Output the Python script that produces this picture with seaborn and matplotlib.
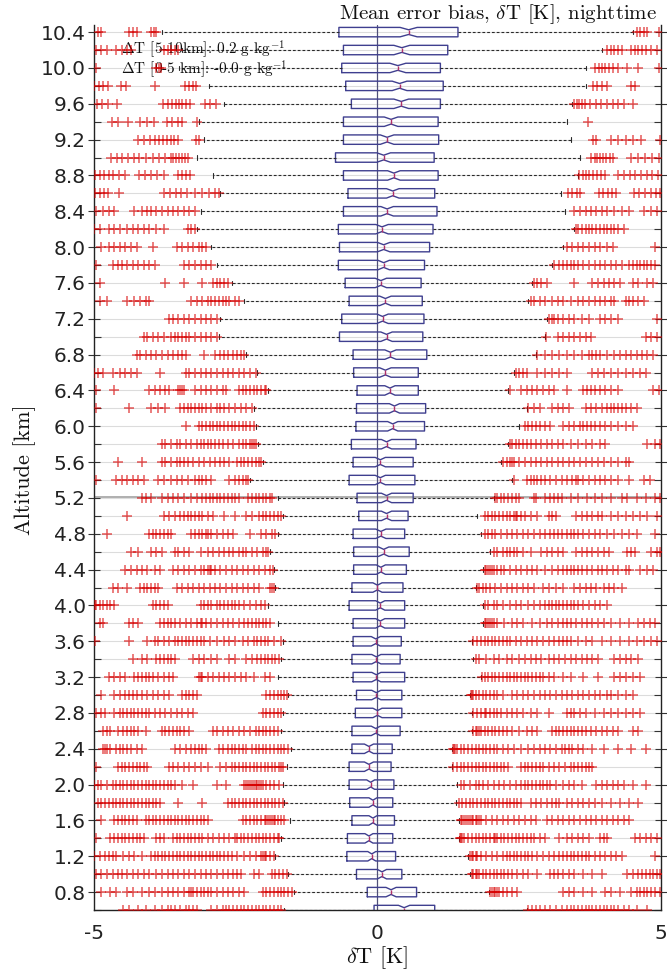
import numpy as np
import pandas as pd
import matplotlib
matplotlib.use("Agg")
import matplotlib.pyplot as plt
import seaborn as sns

# ---------------- data ----------------
altitudes = [10.4, 10.2, 10.0, 9.8, 9.6, 9.4, 9.2, 9.0, 8.8, 8.6, 8.4, 8.2, 8.0,
             7.8, 7.6, 7.4, 7.2, 7.0, 6.8, 6.6, 6.4, 6.2, 6.0, 5.8, 5.6, 5.4,
             5.2, 5.0, 4.8, 4.6, 4.4, 4.2, 4.0, 3.8, 3.6, 3.4, 3.2, 3.0,
             2.8, 2.6, 2.4, 2.2, 2.0, 1.8, 1.6, 1.4, 1.2, 1.0, 0.8, 0.6]

q1 = [-0.68, -0.60, -0.63, -0.56, -0.46, -0.60, -0.60, -0.74, -0.60, -0.52, -0.60, -0.69, -0.67,
      -0.69, -0.57, -0.50, -0.63, -0.67, -0.43, -0.42, -0.36, -0.37, -0.38, -0.46, -0.43, -0.50,
      -0.36, -0.33, -0.43, -0.42, -0.42, -0.45, -0.50, -0.43, -0.43, -0.45, -0.43, -0.37,
      -0.39, -0.45, -0.45, -0.50, -0.50, -0.49, -0.45, -0.53, -0.54, -0.37, -0.18, -0.06]
median = [0.55, 0.43, 0.36, 0.39, 0.42, 0.24, 0.17, 0.11, 0.29, 0.27, 0.17, 0.08, 0.11,
          0.11, 0.06, 0.14, 0.09, 0.16, 0.23, 0.14, 0.22, 0.30, 0.27, 0.16, 0.05, 0.05,
          0.16, 0.16, 0.06, 0.11, 0.06, 0.00, 0.05, 0.05, -0.03, -0.02, -0.02, -0.02,
          0.00, -0.03, -0.15, -0.15, -0.12, -0.08, -0.08, -0.15, -0.10, 0.08, 0.24, 0.47]
q3 = [1.42, 1.24, 1.11, 1.16, 1.11, 1.07, 1.08, 1.00, 1.07, 1.01, 1.05, 0.98, 0.92,
      0.83, 0.77, 0.79, 0.82, 0.80, 0.87, 0.72, 0.72, 0.85, 0.83, 0.68, 0.63, 0.66,
      0.63, 0.54, 0.48, 0.56, 0.51, 0.45, 0.48, 0.48, 0.42, 0.40, 0.48, 0.43,
      0.43, 0.40, 0.26, 0.24, 0.29, 0.27, 0.30, 0.27, 0.32, 0.43, 0.69, 1.01]
whisker_lo = [-3.80, -3.45, -3.50, -2.98, -2.70, -3.15, -3.06, -3.19, -2.90, -2.77, -3.12, -3.19, -2.93,
              -2.83, -2.57, -2.35, -2.77, -2.80, -2.31, -2.12, -1.93, -2.18, -2.15, -2.10, -2.02, -2.25,
              -1.76, -1.67, -1.76, -1.89, -1.83, -1.80, -1.93, -1.76, -1.67, -1.70, -1.75, -1.57,
              -1.67, -1.71, -1.52, -1.60, -1.67, -1.65, -1.54, -1.70, -1.80, -1.58, -1.47, -1.64]
whisker_hi = [4.50, 3.96, 3.67, 3.67, 3.44, 3.34, 3.41, 3.57, 3.54, 3.24, 3.31, 3.47, 3.28,
              3.08, 2.73, 2.66, 2.99, 2.95, 2.79, 2.40, 2.31, 2.63, 2.50, 2.31, 2.18, 2.37,
              2.05, 1.76, 1.82, 1.98, 1.86, 1.73, 1.86, 1.86, 1.66, 1.69, 1.82, 1.63,
              1.66, 1.66, 1.31, 1.31, 1.40, 1.39, 1.44, 1.44, 1.60, 1.63, 1.97, 2.63]
notch_hw = [0.15, 0.14, 0.14, 0.13, 0.13, 0.12, 0.12, 0.12, 0.11, 0.11, 0.11, 0.11, 0.11,
            0.10, 0.10, 0.10, 0.10, 0.10, 0.10, 0.10, 0.09, 0.09, 0.09, 0.09, 0.09, 0.09,
            0.09, 0.09, 0.09, 0.09, 0.08, 0.08, 0.08, 0.08, 0.08, 0.08, 0.08, 0.08,
            0.08, 0.08, 0.08, 0.08, 0.07, 0.07, 0.07, 0.07, 0.07, 0.08, 0.09, 0.10]

# outliers (red +) per altitude level
out_10_4 = [-4.93, -4.87, -4.38, -4.32, -4.25, -3.99, -3.95, -3.90, 4.57, 4.63, 4.70, 4.76, 4.96]
out_10_2 = [-4.96, -4.87, -4.77, -4.61, -4.51, -4.42, -4.35, -3.77, -3.70, -3.64, -3.57, -3.51,
            4.05, 4.12, 4.18, 4.25, 4.31, 4.47, 4.54, 4.60, 4.67, 4.73, 4.83, 4.93]
out_10_0 = [-4.97, -3.90, -3.86, -3.82, 3.83, 3.90, 3.96, 4.02, 4.08, 4.15, 4.25, 4.40, 4.60, 4.96]
out_9_8 = [-5.00, -4.92, -4.84, -4.76, -4.52, -4.44, -3.92, -3.40, -3.33, -3.26, -3.20,
           3.80, 3.88, 3.96, 4.05, 4.47, 4.55]
out_9_6 = [-4.95, -4.85, -4.75, -4.60, -3.78, -3.70, -3.62, -3.55, -3.50, -3.45, -3.38, -3.30, -3.05, -2.95, -2.85,
           3.47, 3.52, 3.56, 3.60, 3.66, 3.75, 3.85, 3.95, 4.05, 4.15, 4.25, 4.35, 4.50]
out_9_4 = [-4.68, -4.58, -4.40, -4.18, -4.06, -3.95, -3.72, -3.62, -3.52, -3.45, -3.18, 3.71]
out_9_2 = [-4.22, -4.12, -4.02, -3.92, -3.85, -3.78, -3.72, -3.65, -3.58, -3.52, -3.20, -3.14,
           3.80, 3.86, 4.12, 4.25, 4.38, 4.50, 4.64, 4.98]
out_9_0 = [-4.70, -4.60, -4.50, -4.40, -4.30, -4.20, -4.08, -3.96, -3.85, -3.75, -3.65, -3.60, -3.55, -3.50,
           -3.45, -3.40, -3.35, 3.77, 3.83, 3.88, 3.93, 3.98, 4.03, 4.10, 4.16, 4.48, 4.60, 4.72, 4.84, 4.96]
out_8_8 = [-4.98, -4.90, -4.82, -4.74, -4.66, -4.55, -4.46, -4.20, -4.10, -4.00, -3.89, -3.77, -3.52, -3.44,
           -3.37, -3.30, 3.56, 3.62, 3.68, 3.74, 3.80, 3.87, 3.94, 4.02, 4.25, 4.35, 4.45, 4.55, 4.65, 4.75,
           4.85, 4.95]
out_8_6 = [-4.98, -4.90, -4.82, -4.75, -4.56, -3.76, -3.66, -3.56, -3.46, -3.36, -3.22, -3.10, -2.98, -2.86,
           -2.79, 3.36, 3.44, 3.52, 3.58, 3.90, 3.98, 4.06, 4.14, 4.20, 4.52, 4.62, 4.72, 4.82, 4.92, 4.99]
out_8_4 = [-4.96, -4.84, -4.74, -4.64, -4.29, -4.16, -4.06, -3.99, -3.90, -3.80, -3.70, -3.61, -3.51, -3.41,
           -3.32, -3.22, 3.47, 3.57, 3.67, 3.76, 3.86, 3.96, 4.05, 4.18, 4.31, 4.44, 4.70, 4.83, 4.93]
out_8_2 = [-5.00, -4.90, -4.74, -4.64, -4.54, -4.42, -4.32, -4.22, -4.12, -4.03, -3.90, -3.77, -3.35, -3.28,
           -3.22, 3.50, 3.54, 3.60, 3.67, 3.73, 3.79, 3.86, 3.92, 3.99, 4.05, 4.12, 4.18, 4.25, 4.34]
out_8_0 = [-4.87, -4.74, -4.64, -4.54, -4.45, -4.35, -4.25, -3.96, -3.54, -3.45, -3.35, -3.25, -3.15, -3.09,
           -3.03, 3.34, 3.44, 3.54, 3.63, 3.73, 3.83, 3.92, 4.05, 4.15, 4.89]
out_7_8 = [-4.96, -4.67, -4.58, -4.51, -4.42, -4.32, -4.22, -4.12, -4.03, -3.93, -3.41, -3.32, -3.22, -3.12,
           -3.03, -2.93, 3.12, 3.21, 3.28, 3.34, 3.41, 3.47, 3.54, 3.63, 3.73, 3.83, 3.92, 4.02, 4.12, 4.21,
           4.31, 4.44, 4.51, 4.57, 4.63, 4.70, 4.76, 4.83, 4.89]
out_7_6 = [-4.90, -3.74, -3.41, -3.09, -2.90, -2.83, -2.77, -2.70, -2.64,
           2.76, 2.82, 2.89, 2.99, 3.47, 3.79, 3.89, 3.99, 4.09, 4.18, 4.28, 4.51, 4.60, 4.76, 4.86]
out_7_4 = [-4.90, -4.77, -4.42, -4.29, -4.19, -4.09, -4.03, -3.28, -3.19, -3.09, -2.99, -2.93, -2.86, -2.80,
           -2.73, -2.67, -2.61, -2.51, -2.44, 2.70, 2.76, 2.86, 2.95, 3.08, 3.18, 3.28, 3.41, 3.54, 3.63,
           3.73, 3.83, 3.92, 4.02, 4.12, 4.18, 4.38, 4.44, 4.51, 4.60, 4.70]
out_7_2 = [-3.67, -3.61, -3.51, -3.41, -3.32, -3.22, -3.12, -3.03, -2.93, -2.83,
           3.02, 3.07, 3.12, 3.18, 3.28, 3.37, 3.47, 3.60, 3.73, 3.92, 4.02, 4.12, 4.25, 4.93]
out_7_0 = [-4.12, -4.06, -3.96, -3.87, -3.77, -3.64, -3.57, -3.51, -3.45, -3.38, -3.32, -3.22, -3.12, -3.03,
           -2.93, -2.83, 2.98, 3.18, 3.28, 3.37, 3.47, 3.57, 3.67, 3.76, 4.73, 4.83, 4.93]
out_6_8 = [-4.25, -4.19, -4.09, -3.99, -3.90, -3.80, -3.70, -3.61, -3.51, -3.45, -3.38, -3.06, -2.86, -2.77,
           -2.70, -2.64, -2.54, -2.48, -2.41, -2.35, 2.82, 2.95, 3.08, 3.21, 3.34, 3.47, 3.60, 3.73, 3.79,
           3.86, 3.92, 4.05, 4.18, 4.28, 4.38, 4.47, 4.57, 4.67, 4.76, 4.86]
out_6_6 = [-5.00, -4.93, -4.84, -4.67, -4.54, -4.45, -4.35, -4.25, -3.83, -3.38, -3.32, -3.22, -3.12, -3.03,
           -2.93, -2.83, -2.73, -2.64, -2.54, -2.44, -2.35, -2.25, -2.15, 2.44, 2.50, 2.57, 2.63, 2.82, 2.95,
           3.08, 3.21, 3.34, 3.79, 3.89, 3.99, 4.12, 4.25, 4.38, 4.51, 4.63, 4.73]
out_6_4 = [-4.96, -4.64, -4.03, -3.93, -3.83, -3.74, -3.67, -3.51, -3.48, -3.45, -3.41, -3.22, -3.12, -3.03,
           -2.93, -2.83, -2.73, -2.67, -2.44, -2.38, -2.31, -2.25, -2.18, -2.12, -2.06, -1.99, -1.96,
           2.33, 2.53, 2.63, 2.73, 2.82, 2.92, 3.02, 3.12, 3.34, 3.63, 3.70, 3.76, 3.83, 3.92, 4.02, 4.12,
           4.25, 4.86, 4.96]
out_6_2 = [-4.96, -4.38, -3.99, -3.87, -3.74, -3.48, -3.41, -3.35, -3.28, -3.22, -3.15, -3.09, -3.03, -2.93,
           -2.83, -2.77, -2.70, -2.61, -2.51, -2.41, -2.31, -2.22, 2.66, 2.76, 2.86, 3.08, 3.18, 3.28, 3.37,
           3.67, 3.76, 3.86, 3.96, 4.05, 4.12, 4.18, 4.25, 4.31, 4.38, 4.47, 4.57]
out_6_0 = [-3.38, -3.15, -3.09, -3.03, -2.96, -2.90, -2.83, -2.77, -2.70, -2.64, -2.57, -2.51, -2.44, -2.38,
           -2.31, -2.25, -2.18, 2.60, 2.66, 2.73, 2.79, 2.86, 2.95, 3.05, 3.28, 3.37, 3.47, 3.57, 3.63, 3.70,
           3.76, 3.83, 3.92, 4.02, 4.12, 4.25, 4.38, 4.51]
out_5_8 = [-3.80, -3.74, -3.64, -3.54, -3.48, -3.38, -3.28, -3.19, -3.12, -3.06, -2.99, -2.93, -2.86, -2.80,
           -2.73, -2.64, -2.54, -2.44, -2.38, -2.31, -2.25, -2.22, -2.18, -2.15, 2.34, 2.37, 2.44, 2.50,
           2.57, 2.63, 2.70, 2.79, 2.89, 2.99, 3.08, 3.18, 3.28, 3.41, 3.54, 3.67, 3.79, 3.92, 4.02, 4.76,
           4.89, 4.99]
out_5_6 = [-4.58, -4.16, -3.80, -3.74, -3.64, -3.54, -3.48, -3.41, -3.35, -3.25, -3.15, -3.06, -2.96, -2.86,
           -2.77, -2.70, -2.61, -2.48, -2.41, -2.35, -2.28, -2.22, -2.15, -2.09, -2.06, 2.21, 2.28, 2.34,
           2.37, 2.40, 2.50, 2.60, 2.70, 2.79, 2.89, 2.99, 3.08, 3.18, 3.28, 3.37, 3.47, 3.57, 3.67, 3.79,
           3.89, 3.99, 4.12, 4.25, 4.38, 4.44]
out_5_4 = [-4.96, -4.61, -4.51, -4.42, -4.32, -4.22, -4.12, -3.87, -3.77, -3.64, -3.54, -3.45, -3.35, -3.22,
           -3.15, -3.09, -3.03, -2.93, -2.61, -2.51, -2.44, -2.38, -2.31, -2.28, 2.40, 2.63, 2.70, 2.76,
           2.82, 2.89, 2.95, 3.05, 3.15, 3.25, 3.34, 3.44, 3.50, 3.54, 3.63, 3.73, 3.83, 3.92, 4.02, 4.12,
           4.25, 4.44, 4.70, 4.80]
out_5_2 = [-4.16, -4.09, -3.99, -3.80, -3.70, -3.61, -3.51, -3.41, -3.28, -3.19, -3.09, -3.03, -2.96, -2.90,
           -2.83, -2.77, -2.70, -2.64, -2.57, -2.51, -2.44, -2.28, -2.22, -2.15, -2.09, -2.02, -1.96, -1.89,
           -1.86, 2.08, 2.11, 2.18, 2.24, 2.31, 2.37, 2.44, 2.50, 2.76, 2.79, 2.95, 3.05, 3.12, 3.18, 3.25,
           3.41, 3.54, 3.70, 3.83, 3.96, 4.12, 4.31, 4.41, 4.57, 4.73, 4.89, 4.99]
out_5_0 = [-4.42, -3.77, -3.67, -3.57, -3.48, -3.41, -3.35, -3.28, -3.22, -3.15, -3.09, -2.99, -2.90, -2.70,
           -2.51, -2.31, -2.22, -2.09, -2.02, -1.96, -1.89, -1.83, -1.76, -1.70, 1.89, 1.95, 2.02, 2.08,
           2.15, 2.21, 2.28, 2.34, 2.40, 2.44, 2.47, 2.53, 2.60, 2.70, 2.82, 3.02, 3.08, 3.15, 3.50, 3.60,
           3.70, 3.79, 3.89, 3.96, 4.12, 4.25, 4.38, 4.51, 4.63, 4.76, 4.93]
out_4_8 = [-4.77, -4.03, -3.96, -3.90, -3.83, -3.77, -3.70, -3.64, -3.28, -3.22, -3.15, -3.09, -3.03, -2.99,
           -2.93, -2.83, -2.73, -2.64, -2.54, -2.25, -2.06, -1.96, -1.86, -1.80, 1.89, 1.95, 2.02, 2.08,
           2.18, 2.28, 2.37, 2.47, 2.57, 2.66, 2.76, 2.86, 2.95, 3.05, 3.12, 3.18, 3.25, 3.34, 3.41, 3.47,
           3.54, 3.63, 3.73, 3.83, 3.92, 4.05, 4.18, 4.31, 4.44, 4.57, 4.89]
out_4_6 = [-4.35, -4.22, -3.99, -3.90, -3.80, -3.57, -3.51, -3.41, -3.32, -3.12, -2.99, -2.90, -2.80, -2.70,
           -2.61, -2.54, -2.44, -2.38, -2.31, -2.22, -2.12, -2.02, -1.96, -1.93, 2.05, 2.11, 2.21, 2.28,
           2.34, 2.40, 2.47, 2.57, 2.70, 2.89, 2.99, 3.08, 3.18, 3.28, 3.50, 3.60, 3.70, 3.79, 3.89, 3.99,
           4.09, 4.41, 4.47, 4.54, 4.83, 4.93, 4.99]
out_4_4 = [-4.45, -4.35, -4.25, -4.16, -4.06, -3.93, -3.83, -3.61, -3.51, -3.41, -3.32, -3.22, -3.12, -3.06,
           -2.99, -2.96, -2.93, -2.86, -2.77, -2.67, -2.57, -2.48, -2.38, -2.28, -2.18, -2.09, -1.99, -1.89,
           -1.85, 1.89, 1.92, 1.95, 1.98, 2.02, 2.05, 2.11, 2.18, 2.24, 2.34, 2.44, 2.53, 2.63, 2.73, 2.82,
           2.95, 3.08, 3.18, 3.28, 3.34, 3.41, 3.47, 3.54, 3.60, 3.70, 3.79, 3.89, 3.96, 4.05, 4.15, 4.25,
           4.38, 4.44, 4.63, 4.76, 4.86]
out_4_2 = [-4.67, -4.58, -4.42, -4.19, -4.12, -4.06, -3.99, -3.93, -3.87, -3.54, -3.45, -3.35, -3.25, -3.15,
           -3.06, -2.96, -2.86, -2.77, -2.67, -2.57, -2.48, -2.38, -2.28, -2.18, -2.09, -1.89, -1.86, -1.82,
           1.76, 1.79, 1.86, 1.92, 1.98, 2.08, 2.18, 2.28, 2.37, 2.47, 2.57, 2.66, 2.76, 2.92, 3.02, 3.15,
           3.28, 3.47, 3.57, 3.67, 3.76, 3.86, 3.99, 4.09, 4.18, 4.31]
out_4_0 = [-4.99, -4.96, -4.90, -4.84, -4.77, -4.71, -4.64, -3.96, -3.90, -3.83, -3.77, -3.70, -3.12, -3.06,
           -2.99, -2.93, -2.83, -2.77, -2.70, -2.64, -2.57, -2.51, -2.44, -2.35, -2.25, -2.15, -2.06, -1.99,
           1.89, 1.95, 2.05, 2.11, 2.21, 2.34, 2.44, 2.53, 2.66, 2.76, 2.86, 2.95, 3.02, 3.08, 3.15, 3.21,
           3.28, 3.34, 3.41, 3.47, 3.54, 3.63, 3.73, 3.83, 3.92, 4.05]
out_3_8 = [-4.90, -4.84, -4.38, -4.32, -4.22, -3.83, -3.77, -3.70, -3.64, -3.57, -3.48, -3.38, -3.28, -3.19,
           -3.12, -3.09, -3.03, -2.93, -2.83, -2.73, -2.64, -2.54, -2.44, -2.35, -2.28, -2.22, -2.15, -2.09,
           -2.02, -1.96, -1.89, 1.89, 1.92, 1.95, 1.98, 2.02, 2.05, 2.11, 2.24, 2.37, 2.47, 2.57, 2.73, 2.86,
           2.99, 3.08, 3.18, 3.28, 3.34, 3.41, 3.50, 3.60, 3.70, 3.79, 3.89, 3.99, 4.12, 4.28, 4.44, 4.60,
           4.70, 4.80, 4.89]
out_3_6 = [-4.99, -4.38, -4.06, -3.93, -3.87, -3.77, -3.67, -3.57, -3.51, -3.45, -3.38, -3.32, -3.25, -3.19,
           -3.12, -3.06, -2.96, -2.83, -2.70, -2.61, -2.51, -2.38, -2.28, -2.18, -2.12, -2.06, -1.99, -1.93,
           -1.83, -1.70, 1.69, 1.76, 1.82, 1.89, 1.95, 2.02, 2.08, 2.15, 2.21, 2.28, 2.34, 2.44, 2.53, 2.63,
           2.73, 2.82, 2.92, 3.02, 3.12, 3.21, 3.28, 3.34, 3.41, 3.54, 3.67, 3.79, 3.96, 4.12, 4.28, 4.44,
           4.57, 4.70, 4.83, 4.93]
out_3_4 = [-4.32, -4.16, -4.06, -3.90, -3.83, -3.77, -3.70, -3.64, -3.57, -3.25, -3.15, -3.06, -2.93, -2.83,
           -2.61, -2.51, -2.31, -2.22, -2.12, -2.06, -1.99, -1.93, -1.86, -1.80, -1.73, 1.73, 1.79, 1.92,
           2.05, 2.15, 2.28, 2.37, 2.50, 2.60, 2.70, 2.79, 2.89, 3.02, 3.12, 3.21, 3.31, 3.41, 3.50, 3.60,
           3.70, 3.79, 3.89, 4.18, 4.28, 4.38, 4.47, 4.60]
out_3_2 = [-4.74, -4.64, -4.54, -4.45, -4.29, -4.22, -4.16, -4.09, -4.03, -3.96, -3.87, -3.77, -3.67, -3.61,
           -3.15, -3.12, -3.09, -2.99, -2.90, -2.80, -2.70, -2.61, -2.51, -2.41, -2.31, -2.18, -1.99, -1.89,
           1.85, 1.89, 1.95, 2.02, 2.08, 2.15, 2.21, 2.28, 2.34, 2.40, 2.47, 2.53, 2.60, 2.66, 2.73, 2.79,
           2.86, 2.92, 3.02, 3.12, 3.28, 3.41, 3.63, 3.89, 4.18, 4.28, 4.38, 4.51, 4.63]
out_3_0 = [-4.87, -4.64, -4.54, -4.45, -4.38, -4.32, -4.25, -4.16, -4.06, -3.96, -3.87, -3.77, -3.67, -3.45,
           -3.38, -3.32, -3.25, -3.19, -1.96, -1.89, -1.83, -1.76, -1.70, -1.64, -1.60, 1.65, 1.67, 1.69,
           1.73, 1.79, 1.86, 1.92, 1.98, 2.05, 2.11, 2.21, 2.37, 2.47, 2.57, 2.66, 2.76, 2.86, 2.95, 3.05,
           3.15, 3.25, 3.34, 3.44, 3.54, 3.63, 3.73, 3.83, 3.92, 4.05, 4.12, 4.25, 4.38, 4.51]
out_2_8 = [-4.96, -4.87, -4.80, -4.64, -4.54, -4.48, -4.42, -4.35, -4.29, -4.22, -4.16, -4.09, -4.03, -3.93,
           -3.83, -3.74, -3.64, -3.54, -3.45, -3.35, -3.25, -2.02, -1.96, -1.89, -1.83, -1.76, -1.70,
           1.69, 1.76, 1.82, 1.89, 1.92, 1.98, 2.05, 2.11, 2.18, 2.28, 2.37, 2.47, 2.57, 2.70, 2.82, 3.02,
           3.34, 3.41, 3.47, 3.57, 3.67, 3.83, 3.99, 4.12, 4.25, 4.38, 4.51, 4.63]
out_2_6 = [-4.84, -4.77, -4.71, -4.58, -4.48, -4.42, -4.35, -4.29, -4.22, -4.09, -3.80, -3.74, -3.67, -3.61,
           -3.54, -3.48, -3.41, -3.32, -2.90, -2.83, -2.73, -2.64, -2.54, -2.44, -2.35, -2.25, -2.15, -2.09,
           -2.02, -1.96, -1.89, -1.83, -1.76, 1.69, 1.73, 1.76, 1.79, 1.82, 1.89, 1.95, 2.02, 2.08, 2.15,
           2.21, 2.28, 2.37, 2.50, 2.63, 2.73, 2.82, 3.08, 3.15, 3.21, 3.28, 3.34, 3.41, 3.47, 3.54, 3.60,
           3.67, 3.76, 3.86, 3.96, 4.05, 4.15, 4.25, 4.51, 4.60]
out_2_4 = [-4.84, -4.80, -4.77, -4.71, -4.61, -4.54, -4.48, -4.42, -4.35, -4.25, -4.16, -3.57, -3.48, -3.38,
           -3.28, -3.22, -3.15, -3.09, -3.03, -2.80, -2.73, -2.64, -2.57, -2.51, -2.44, -2.38, -2.31, -2.22,
           -2.15, -2.09, -2.02, -1.96, -1.89, -1.83, -1.76, -1.70, -1.64, -1.57, 1.33, 1.35, 1.37, 1.40,
           1.47, 1.53, 1.60, 1.66, 1.73, 1.79, 1.86, 1.92, 1.98, 2.05, 2.11, 2.21, 2.31, 2.40, 2.53, 2.66,
           2.76, 2.86, 2.95, 3.05, 3.15, 3.25, 3.31, 3.37, 3.44, 3.54, 3.63, 3.79, 3.99, 4.25, 4.47, 4.73]
out_2_2 = [-4.96, -4.58, -4.51, -4.45, -4.38, -4.32, -4.25, -4.19, -4.12, -4.06, -3.67, -3.61, -3.51, -3.41,
           -3.32, -3.22, -3.12, -2.99, -2.77, -2.67, -2.57, -2.51, -2.44, -2.38, -2.31, -2.25, -2.18, -2.12,
           -2.06, -1.99, -1.93, -1.86, -1.80, -1.73, -1.70, -1.67, 1.34, 1.40, 1.47, 1.53, 1.60, 1.66, 1.73,
           1.79, 1.86, 1.92, 1.98, 2.05, 2.11, 2.18, 2.24, 2.31, 2.53, 2.60, 2.66, 2.73, 2.79, 2.86, 2.92,
           3.02, 3.12, 3.21, 3.31, 3.41, 3.47, 3.54, 3.60, 3.67, 3.73, 3.79]
out_2_0 = [-5.00, -4.93, -4.87, -4.77, -4.67, -4.61, -4.54, -4.48, -4.42, -4.35, -4.29, -4.22, -4.16, -4.09,
           -4.03, -3.96, -3.90, -3.83, -3.77, -3.70, -3.64, -3.57, -3.45, -3.25, -2.83, -2.67, -2.35, -2.31,
           -2.28, -2.25, -2.22, -2.18, -2.15, -2.12, -2.09, -2.06, -2.02, -1.96, -1.89, -1.83, -1.73,
           1.47, 1.53, 1.63, 1.73, 1.79, 1.86, 1.95, 2.05, 2.15, 2.24, 2.34, 2.44, 2.53, 2.60, 2.66, 2.73,
           2.79, 2.86, 2.92, 2.99, 3.05, 3.15, 3.28, 3.37, 3.47, 3.60, 3.86, 3.96, 4.05, 4.15, 4.25, 4.34,
           4.51, 4.73]
out_1_8 = [-4.93, -4.87, -4.80, -4.74, -4.67, -4.61, -4.54, -4.48, -4.42, -4.35, -4.29, -4.22, -4.16, -4.09,
           -4.03, -3.96, -3.90, -3.83, -3.51, -3.09, -2.64, -2.57, -2.51, -2.44, -2.38, -2.31, -2.25, -2.18,
           -2.12, -2.06, -1.99, -1.93, -1.86, -1.80, -1.73, -1.67, 1.44, 1.50, 1.56, 1.63, 1.69, 1.76, 1.82,
           1.89, 1.95, 2.02, 2.08, 2.15, 2.21, 2.28, 2.34, 2.40, 2.47, 2.53, 2.70, 2.79, 2.89, 2.99, 3.08,
           3.15, 3.21, 3.34, 3.44, 3.54, 3.63, 3.73, 3.83, 3.96, 4.12, 4.28, 4.44, 4.60]
out_1_6 = [-4.87, -4.64, -4.58, -4.51, -4.45, -4.38, -4.32, -4.25, -4.09, -4.03, -3.96, -3.90, -3.83, -3.77,
           -3.70, -3.64, -3.57, -3.51, -3.45, -3.38, -3.32, -3.25, -3.19, -3.12, -3.06, -2.99, -2.38, -2.31,
           -2.25, -2.18, -2.12, -2.06, -1.99, -1.96, -1.93, -1.89, -1.86, -1.83, -1.80, -1.76, -1.70, -1.64,
           1.47, 1.50, 1.53, 1.56, 1.60, 1.63, 1.66, 1.69, 1.73, 1.76, 1.79, 1.82, 1.92, 2.02, 2.11, 2.21,
           2.31, 2.40, 2.50, 2.60, 2.70, 2.79, 2.99, 3.08, 3.18, 3.28, 3.37, 3.47, 3.57, 3.67, 3.76, 3.86,
           3.96, 4.05, 4.15, 4.25, 4.34, 4.44]
out_1_4 = [-4.96, -4.71, -4.64, -4.58, -4.51, -4.45, -4.38, -4.32, -4.25, -4.19, -4.12, -3.90, -3.83, -3.77,
           -3.61, -3.54, -3.48, -3.41, -3.35, -3.28, -3.22, -3.15, -3.09, -2.99, -2.90, -2.80, -2.70, -2.61,
           -2.51, -2.48, -2.41, -2.35, -2.28, -2.22, -2.15, -2.09, -2.02, -1.96, -1.89, -1.83, -1.76, -1.73,
           1.46, 1.48, 1.50, 1.53, 1.60, 1.66, 1.73, 1.79, 1.86, 1.92, 1.98, 2.05, 2.08, 2.11, 2.18, 2.24,
           2.31, 2.37, 2.44, 2.50, 2.57, 2.63, 2.70, 2.76, 2.86, 2.95, 3.21, 3.34, 3.44, 3.54, 3.63, 3.73,
           3.92, 3.99, 4.05, 4.54, 4.63, 4.73, 4.83, 4.93]
out_1_2 = [-5.00, -4.90, -4.80, -4.74, -4.67, -4.61, -4.48, -4.38, -4.29, -4.16, -3.99, -3.93, -3.87, -3.80,
           -3.74, -3.67, -3.61, -3.54, -3.48, -3.41, -3.35, -3.28, -3.22, -3.15, -3.09, -3.03, -2.96, -2.90,
           -2.83, -2.77, -2.70, -2.64, -2.57, -2.48, -2.35, -2.25, -2.15, -2.06, -2.02, -1.99, -1.96, -1.89,
           -1.83, 1.63, 1.66, 1.69, 1.73, 1.76, 1.82, 1.92, 2.02, 2.11, 2.21, 2.28, 2.34, 2.40, 2.47, 2.53,
           2.60, 2.66, 2.73, 2.82, 2.92, 3.02, 3.12, 3.21, 3.28, 3.34, 3.41, 3.47, 3.54, 3.60, 3.67, 3.73,
           3.83, 3.92, 4.02, 4.12, 4.21, 4.31, 4.89]
out_1_0 = [-4.96, -4.87, -4.77, -4.67, -4.58, -4.51, -4.42, -4.32, -4.22, -4.12, -4.03, -3.90, -3.80, -3.70,
           -3.61, -3.51, -3.41, -3.32, -3.22, -3.12, -3.03, -2.93, -2.83, -2.73, -2.64, -2.54, -2.48, -2.41,
           -2.18, -2.09, -1.86, -1.80, -1.73, -1.67, -1.60, 1.66, 1.69, 1.73, 1.76, 1.79, 1.86, 1.92, 1.98,
           2.05, 2.11, 2.18, 2.24, 2.31, 2.37, 2.47, 2.57, 2.66, 2.82, 3.05, 3.12, 3.18, 3.28, 3.37, 3.47,
           3.63, 3.79, 3.96, 4.41, 4.51, 4.60, 4.67, 4.73, 4.80, 4.86, 4.93, 4.99]
out_0_8 = [-4.87, -4.71, -4.61, -4.42, -4.32, -4.16, -4.03, -3.93, -3.80, -3.70, -3.61, -3.51, -3.41, -3.32,
           -3.28, -3.25, -3.19, -3.12, -3.06, -2.99, -2.93, -2.83, -2.73, -2.64, -2.54, -2.44, -2.35, -2.02,
           -1.96, -1.89, -1.83, -1.76, -1.70, -1.64, -1.57, -1.51, 1.99, 2.02, 2.05, 2.08, 2.11, 2.15, 2.21,
           2.28, 2.37, 2.47, 3.28, 3.37, 3.47, 3.63, 3.79, 4.02, 4.12, 4.28, 4.47, 4.57, 4.63, 4.70, 4.76,
           4.83, 4.89, 4.99]
out_0_6 = [-4.48, -4.38, -4.22, -4.09, -3.93, -3.80, -3.70, -3.64, -3.57, -3.48, -3.38, -3.32, -3.25, -3.19,
           -2.93, -2.83, -2.73, -2.67, -2.61, -2.54, -2.48, -2.41, -2.35, -2.28, -2.22, -2.15, -2.09, -2.02,
           -1.96, -1.89, -1.83, -1.76, -1.70, 2.66, 2.73, 2.79, 2.86, 2.95, 3.05, 3.15, 3.25, 3.34, 3.41,
           3.47, 3.54, 3.60, 3.67, 3.73, 3.79, 3.86, 3.92, 3.99, 4.05, 4.12, 4.18, 4.25, 4.34, 4.44, 4.57,
           4.76]

outliers = [out_10_4, out_10_2, out_10_0, out_9_8, out_9_6, out_9_4, out_9_2, out_9_0, out_8_8,
            out_8_6, out_8_4, out_8_2, out_8_0, out_7_8, out_7_6, out_7_4, out_7_2, out_7_0, out_6_8,
            out_6_6, out_6_4, out_6_2, out_6_0, out_5_8, out_5_6, out_5_4, out_5_2, out_5_0, out_4_8,
            out_4_6, out_4_4, out_4_2, out_4_0, out_3_8, out_3_6, out_3_4, out_3_2, out_3_0, out_2_8,
            out_2_6, out_2_4, out_2_2, out_2_0, out_1_8, out_1_6, out_1_4, out_1_2, out_1_0, out_0_8,
            out_0_6]

major_ticks = [0.8, 1.2, 1.6, 2.0, 2.4, 2.8, 3.2, 3.6, 4.0, 4.4, 4.8, 5.2, 5.6, 6.0, 6.4, 6.8,
               7.2, 7.6, 8.0, 8.4, 8.8, 9.2, 9.6, 10.0, 10.4]
minor_ticks = [0.6, 1.0, 1.4, 1.8, 2.2, 2.6, 3.0, 3.4, 3.8, 4.2, 4.6, 5.0, 5.4, 5.8, 6.2, 6.6,
               7.0, 7.4, 7.8, 8.2, 8.6, 9.0, 9.4, 9.8, 10.2]
x_ticks = [-5, 0, 5]

title_text = r"Mean error bias, $\delta$T [K], nighttime"
note_upper = r"$\Delta$T [5-10km]: 0.2 g kg$^{-1}$"
note_lower = r"$\Delta$T [0-5 km]: -0.0 g kg$^{-1}$"

# ---------------- style ----------------
sns.set_theme(style="white")
plt.rcParams["font.family"] = ["DejaVu Sans"]
plt.rcParams["mathtext.fontset"] = "cm"
plt.rcParams["axes.unicode_minus"] = False

BOX_C = "#3f3f8f"
WHISK_C = "#2a2a2a"
RED = "#d80000"
SERIF = ["cmr10", "DejaVu Serif"]

fig = plt.figure(figsize=(6.67, 9.71), dpi=100)
ax = fig.add_axes([0.1409, 0.0628, 0.850, 0.9115])

# grid lines for every level
ax.set_yticks(major_ticks)
ax.set_yticks(minor_ticks, minor=True)
ax.grid(True, axis="y", which="both", color="#dcdcdc", lw=0.8, zorder=0)
ax.grid(False, axis="x")
ax.set_axisbelow(True)
ax.axhline(5.21, color="#a9a9a9", lw=1.3, zorder=1)

# boxes
stats = []
for i in range(len(altitudes)):
    stats.append(dict(med=median[i], q1=q1[i], q3=q3[i],
                      whislo=whisker_lo[i], whishi=whisker_hi[i],
                      cilo=median[i] - notch_hw[i], cihi=median[i] + notch_hw[i],
                      fliers=[]))
bxp_kw = dict(positions=altitudes, widths=0.105, capwidths=0.05, shownotches=True,
              showfliers=False, manage_ticks=False, patch_artist=False,
              boxprops=dict(color=BOX_C, lw=1.0),
              whiskerprops=dict(color=WHISK_C, lw=0.8, linestyle=(0, (2.5, 1.8))),
              capprops=dict(color=WHISK_C, lw=0.8),
              medianprops=dict(color="#b0306a", lw=1.0), zorder=3)
try:
    ax.bxp(stats, orientation="horizontal", **bxp_kw)
except TypeError:
    ax.bxp(stats, vert=False, **bxp_kw)

ax.axvline(0, color="#50507a", lw=0.9, zorder=2.5)

# outliers
df_out = pd.DataFrame({
    "alt": np.repeat(altitudes, [len(o) for o in outliers]),
    "dT": np.concatenate([np.asarray(o, dtype=float) for o in outliers]),
})
sns.scatterplot(data=df_out, x="dT", y="alt", marker="+", color=RED, s=58,
                linewidth=1.1, alpha=0.65, ax=ax, legend=False, zorder=4)

ax.set_xlim(-5, 5)
ax.set_ylim(0.6, 10.48)
ax.set_xlabel("")
ax.set_ylabel("")

ax.set_yticklabels([f"{v:.1f}" for v in major_ticks])
ax.set_xticks(x_ticks)
ax.set_xticklabels([str(v) for v in x_ticks])
ax.tick_params(axis="y", which="major", direction="inout", length=8, width=0.8,
               color="#333333", left=True, right=True, labelsize=14.5, pad=2,
               labelcolor="#222222")
ax.tick_params(axis="y", which="minor", direction="in", length=5, width=0.8,
               color="#333333", left=True, right=True)
ax.tick_params(axis="x", which="both", length=0, pad=10, labelsize=14.5,
               labelcolor="#222222")

for side in ["left", "bottom", "right"]:
    ax.spines[side].set_visible(True)
    ax.spines[side].set_color("#222222")
    ax.spines[side].set_linewidth(1.0)
ax.spines["top"].set_visible(False)

# texts
ax.text(-4.52, 10.205, note_upper, family=SERIF, fontsize=11, va="center",
        ha="left", color="#111111", zorder=3.5)
ax.text(-4.52, 9.985, note_lower, family=SERIF, fontsize=11, va="center",
        ha="left", color="#111111", zorder=3.5)
fig.text(0.985, 0.9856, title_text, family=SERIF, fontsize=15, ha="right",
         va="center", color="#111111")
fig.text(0.5655, 0.0134, r"$\delta$T [K]", family=SERIF, fontsize=16,
         ha="center", va="center", color="#111111")
fig.text(0.0375, 0.516, "Altitude [km]", family=SERIF, fontsize=16, rotation=90,
         ha="center", va="center", color="#111111")

fig.savefig("out.png", dpi=100)
